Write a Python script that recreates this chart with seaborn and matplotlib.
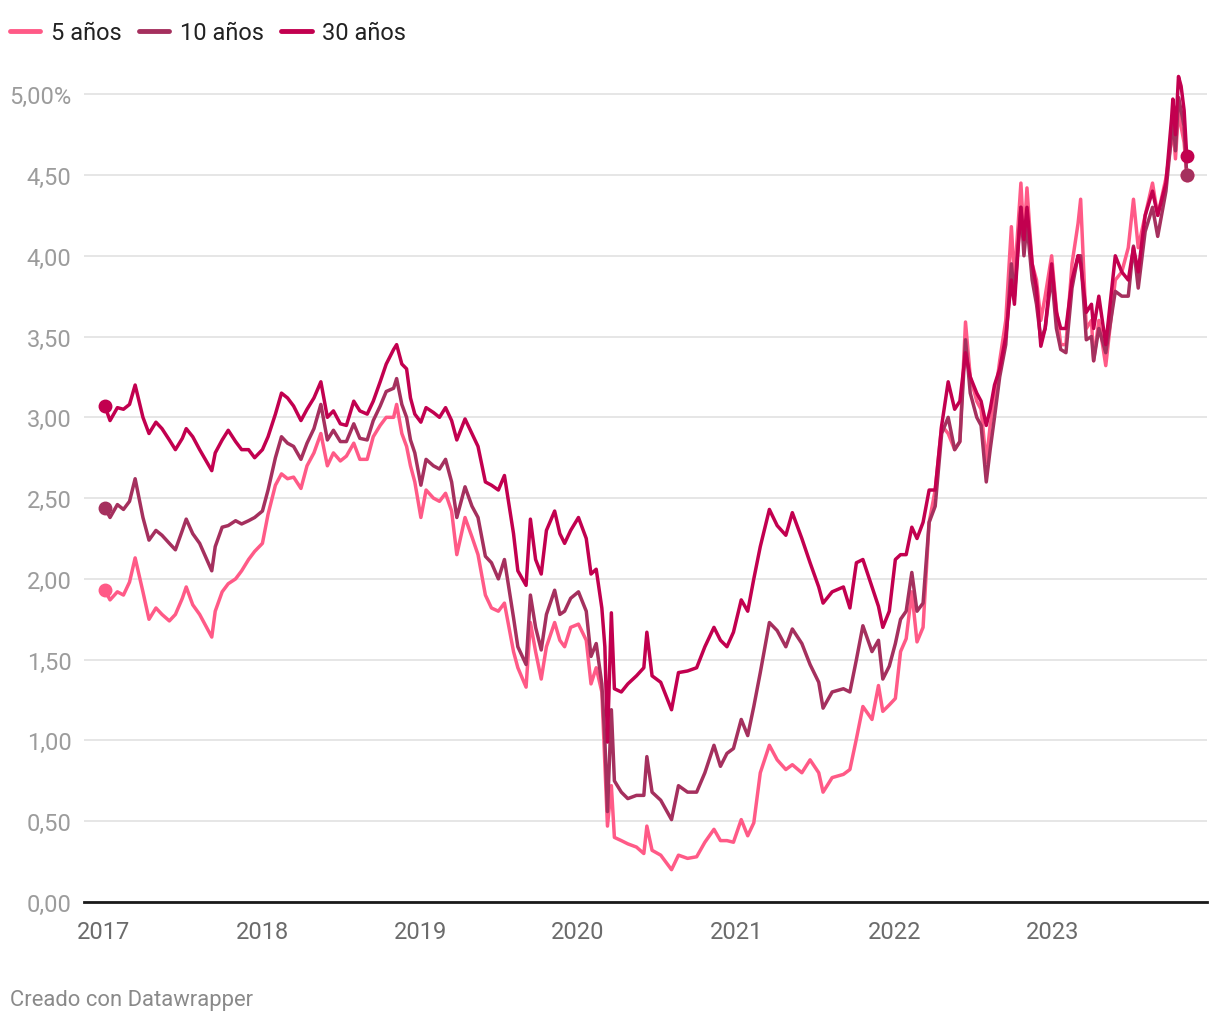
import pandas as pd
import numpy as np
import seaborn as sns
import matplotlib.pyplot as plt
import matplotlib.dates as mdates
from matplotlib.lines import Line2D
from matplotlib.ticker import FixedLocator, FuncFormatter

# fechas (aprox. quincenales, con picos y valles)
fechas = [
    # 2017
    "2017-01-03", "2017-01-15", "2017-02-01", "2017-02-15", "2017-03-01", "2017-03-14",
    "2017-04-01", "2017-04-15", "2017-05-01", "2017-05-15", "2017-06-01", "2017-06-15",
    "2017-07-01", "2017-07-10", "2017-07-25", "2017-08-10", "2017-09-07", "2017-09-15",
    "2017-10-01", "2017-10-15", "2017-11-01", "2017-11-15", "2017-12-01", "2017-12-15",
    # 2018
    "2018-01-02", "2018-01-15", "2018-02-01", "2018-02-15", "2018-03-01", "2018-03-15",
    "2018-04-01", "2018-04-15", "2018-05-01", "2018-05-17", "2018-06-01", "2018-06-15",
    "2018-07-01", "2018-07-15", "2018-08-01", "2018-08-15", "2018-09-01", "2018-09-15",
    "2018-10-01", "2018-10-15", "2018-11-01", "2018-11-08", "2018-11-20", "2018-12-01",
    "2018-12-10", "2018-12-20",
    # 2019
    "2019-01-03", "2019-01-15", "2019-02-01", "2019-02-15", "2019-03-01", "2019-03-15",
    "2019-03-27", "2019-04-15", "2019-05-01", "2019-05-15", "2019-06-01", "2019-06-15",
    "2019-07-01", "2019-07-15", "2019-08-05", "2019-08-15", "2019-09-03", "2019-09-13",
    "2019-09-25", "2019-10-08", "2019-10-20", "2019-11-08", "2019-11-20", "2019-12-01",
    "2019-12-15",
    # 2020
    "2020-01-02", "2020-01-20", "2020-01-31", "2020-02-12", "2020-02-25", "2020-03-03",
    "2020-03-09", "2020-03-18", "2020-03-25", "2020-04-10", "2020-04-25", "2020-05-15",
    "2020-06-01", "2020-06-08", "2020-06-20", "2020-07-10", "2020-08-04", "2020-08-20",
    "2020-09-10", "2020-10-01", "2020-10-20", "2020-11-10", "2020-11-25", "2020-12-10",
    "2020-12-25",
    # 2021
    "2021-01-12", "2021-01-27", "2021-02-10", "2021-02-25", "2021-03-18", "2021-04-05",
    "2021-04-25", "2021-05-10", "2021-06-01", "2021-06-20", "2021-07-10", "2021-07-20",
    "2021-08-10", "2021-09-05", "2021-09-20", "2021-10-05", "2021-10-20", "2021-11-10",
    "2021-11-25", "2021-12-05", "2021-12-20",
    # 2022
    "2022-01-03", "2022-01-15", "2022-01-28", "2022-02-10", "2022-02-22", "2022-03-08",
    "2022-03-22", "2022-04-05", "2022-04-20", "2022-05-05", "2022-05-20", "2022-06-01",
    "2022-06-14", "2022-06-25", "2022-07-10", "2022-07-20", "2022-08-01", "2022-08-10",
    "2022-08-20", "2022-09-01", "2022-09-15", "2022-09-28", "2022-10-05", "2022-10-20",
    "2022-10-27", "2022-11-03", "2022-11-15", "2022-11-25", "2022-12-05", "2022-12-15",
    "2022-12-30",
    # 2023
    "2023-01-10", "2023-01-20", "2023-02-01", "2023-02-15", "2023-03-01", "2023-03-07",
    "2023-03-20", "2023-04-01", "2023-04-06", "2023-04-18", "2023-05-04", "2023-05-26",
    "2023-06-10", "2023-06-25", "2023-07-07", "2023-07-18", "2023-08-03", "2023-08-20",
    "2023-09-01", "2023-09-20", "2023-10-03", "2023-10-06", "2023-10-12", "2023-10-19",
    "2023-10-25", "2023-11-01", "2023-11-07",
]

bono_5 = [
    # 2017
    1.93, 1.87, 1.92, 1.90, 1.98, 2.13, 1.92, 1.75, 1.82, 1.78, 1.74, 1.78,
    1.88, 1.95, 1.84, 1.78, 1.64, 1.80, 1.92, 1.97, 2.00, 2.05, 2.12, 2.17,
    # 2018
    2.22, 2.40, 2.58, 2.65, 2.62, 2.63, 2.56, 2.70, 2.78, 2.90, 2.70, 2.78,
    2.73, 2.76, 2.84, 2.74, 2.74, 2.88, 2.95, 3.00, 3.00, 3.08, 2.90, 2.82,
    2.70, 2.60,
    # 2019
    2.38, 2.55, 2.50, 2.48, 2.53, 2.42, 2.15, 2.38, 2.26, 2.15, 1.90, 1.82,
    1.80, 1.85, 1.55, 1.45, 1.33, 1.73, 1.55, 1.38, 1.58, 1.73, 1.62, 1.58,
    1.70,
    # 2020
    1.72, 1.62, 1.35, 1.45, 1.30, 0.85, 0.47, 0.72, 0.40, 0.38, 0.36, 0.34,
    0.30, 0.47, 0.32, 0.29, 0.20, 0.29, 0.27, 0.28, 0.37, 0.45, 0.38, 0.38,
    0.37,
    # 2021
    0.51, 0.41, 0.49, 0.80, 0.97, 0.88, 0.82, 0.85, 0.80, 0.88, 0.80, 0.68,
    0.77, 0.79, 0.82, 1.01, 1.21, 1.13, 1.34, 1.18, 1.22,
    # 2022
    1.26, 1.55, 1.63, 1.92, 1.61, 1.70, 2.35, 2.55, 2.95, 2.90, 2.80, 2.85,
    3.59, 3.25, 3.10, 3.05, 2.72, 2.95, 3.10, 3.35, 3.60, 4.18, 3.85, 4.45,
    4.10, 4.42, 3.95, 3.85, 3.60, 3.75, 4.00,
    # 2023
    3.67, 3.45, 3.45, 3.95, 4.20, 4.35, 3.55, 3.60, 3.35, 3.60, 3.32, 3.85,
    3.90, 4.05, 4.35, 4.05, 4.25, 4.45, 4.25, 4.48, 4.72, 4.82, 4.60, 4.90,
    4.80, 4.70, 4.50,
]

bono_10 = [
    # 2017
    2.44, 2.38, 2.46, 2.43, 2.48, 2.62, 2.38, 2.24, 2.30, 2.27, 2.22, 2.18,
    2.30, 2.37, 2.28, 2.22, 2.05, 2.20, 2.32, 2.33, 2.36, 2.34, 2.36, 2.38,
    # 2018
    2.42, 2.55, 2.75, 2.88, 2.84, 2.82, 2.74, 2.84, 2.93, 3.08, 2.86, 2.92,
    2.85, 2.85, 2.96, 2.87, 2.86, 2.98, 3.07, 3.16, 3.18, 3.24, 3.08, 3.00,
    2.86, 2.78,
    # 2019
    2.58, 2.74, 2.70, 2.68, 2.74, 2.60, 2.38, 2.57, 2.45, 2.38, 2.14, 2.10,
    2.00, 2.12, 1.76, 1.58, 1.47, 1.90, 1.70, 1.56, 1.78, 1.93, 1.78, 1.80,
    1.88,
    # 2020
    1.92, 1.80, 1.52, 1.60, 1.35, 1.00, 0.56, 1.19, 0.75, 0.68, 0.64, 0.66,
    0.66, 0.90, 0.68, 0.63, 0.51, 0.72, 0.68, 0.68, 0.80, 0.97, 0.84, 0.92,
    0.95,
    # 2021
    1.13, 1.03, 1.21, 1.42, 1.73, 1.68, 1.58, 1.69, 1.60, 1.47, 1.36, 1.20,
    1.30, 1.32, 1.30, 1.50, 1.71, 1.55, 1.62, 1.38, 1.46,
    # 2022
    1.60, 1.75, 1.80, 2.04, 1.80, 1.85, 2.35, 2.45, 2.90, 3.00, 2.80, 2.85,
    3.48, 3.15, 3.00, 2.95, 2.60, 2.80, 3.00, 3.25, 3.45, 3.95, 3.75, 4.30,
    4.00, 4.20, 3.85, 3.70, 3.48, 3.55, 3.88,
    # 2023
    3.55, 3.42, 3.40, 3.80, 4.00, 4.00, 3.48, 3.50, 3.35, 3.55, 3.40, 3.78,
    3.75, 3.75, 4.06, 3.80, 4.15, 4.30, 4.12, 4.40, 4.75, 4.88, 4.65, 4.98,
    4.90, 4.80, 4.50,
]

bono_30 = [
    # 2017
    3.07, 2.98, 3.06, 3.05, 3.08, 3.20, 3.00, 2.90, 2.97, 2.93, 2.86, 2.80,
    2.87, 2.93, 2.88, 2.80, 2.67, 2.78, 2.86, 2.92, 2.85, 2.80, 2.80, 2.75,
    # 2018
    2.80, 2.88, 3.02, 3.15, 3.12, 3.07, 2.98, 3.05, 3.12, 3.22, 3.00, 3.04,
    2.96, 2.95, 3.10, 3.04, 3.02, 3.10, 3.22, 3.33, 3.42, 3.45, 3.33, 3.30,
    3.12, 3.02,
    # 2019
    2.97, 3.06, 3.03, 3.00, 3.06, 2.98, 2.86, 2.99, 2.90, 2.82, 2.60, 2.58,
    2.55, 2.64, 2.28, 2.05, 1.96, 2.37, 2.12, 2.03, 2.30, 2.42, 2.28, 2.22,
    2.30,
    # 2020
    2.38, 2.25, 2.03, 2.06, 1.82, 1.58, 0.99, 1.79, 1.32, 1.30, 1.35, 1.40,
    1.45, 1.67, 1.40, 1.36, 1.19, 1.42, 1.43, 1.45, 1.58, 1.70, 1.62, 1.58,
    1.67,
    # 2021
    1.87, 1.80, 2.00, 2.20, 2.43, 2.33, 2.27, 2.41, 2.25, 2.10, 1.95, 1.85,
    1.92, 1.95, 1.82, 2.10, 2.12, 1.95, 1.83, 1.70, 1.80,
    # 2022
    2.12, 2.15, 2.15, 2.32, 2.25, 2.35, 2.55, 2.55, 2.95, 3.22, 3.05, 3.10,
    3.40, 3.25, 3.15, 3.10, 2.95, 3.05, 3.20, 3.30, 3.50, 3.85, 3.70, 4.30,
    4.10, 4.30, 3.95, 3.80, 3.44, 3.55, 3.95,
    # 2023
    3.65, 3.55, 3.55, 3.85, 4.00, 3.95, 3.65, 3.70, 3.55, 3.75, 3.45, 4.00,
    3.90, 3.85, 4.05, 3.90, 4.25, 4.40, 4.25, 4.45, 4.85, 4.97, 4.75, 5.11,
    5.05, 4.90, 4.62,
]

series = ["5 años", "10 años", "30 años"]
colores = ["#ff5a87", "#a5305e", "#c2004f"]
y_ticks = [0, 0.5, 1, 1.5, 2, 2.5, 3, 3.5, 4, 4.5, 5]

assert len(fechas) == len(bono_5) == len(bono_10) == len(bono_30)

df = pd.DataFrame({"fecha": pd.to_datetime(fechas),
                   "5 años": bono_5, "10 años": bono_10, "30 años": bono_30})
df_long = df.melt(id_vars="fecha", var_name="serie", value_name="valor")

sns.set_theme(style="white")
plt.rcParams["font.family"] = ["Roboto", "DejaVu Sans"]

fig = plt.figure(figsize=(12.2, 10.2), dpi=100)
ax = fig.add_axes([0.0689, 0.1147, 0.9205, 0.8157])

sns.lineplot(data=df_long, x="fecha", y="valor", hue="serie", hue_order=series,
             palette=colores, linewidth=2.5, legend=False, ax=ax)

# puntos al inicio y al final
for s, c in zip(series, colores):
    ax.plot(df["fecha"].iloc[[0, -1]], df[s].iloc[[0, -1]], "o", color=c,
            markersize=9, zorder=5)

ax.set_xlim(pd.Timestamp("2016-11-16"), pd.Timestamp("2023-12-24"))
ax.set_ylim(0, 5.15)

ax.yaxis.set_major_locator(FixedLocator(y_ticks))
ax.yaxis.set_major_formatter(FuncFormatter(
    lambda v, p: f"{v:.2f}".replace(".", ",") + ("%" if v == 5 else "")))
ax.xaxis.set_major_locator(mdates.YearLocator())
ax.xaxis.set_major_formatter(mdates.DateFormatter("%Y"))

ax.grid(axis="y", color="#e2e2e2", linewidth=1.2)
ax.grid(axis="x", visible=False)
for side in ["top", "right", "left"]:
    ax.spines[side].set_visible(False)
ax.spines["bottom"].set_color("#1a1a1a")
ax.spines["bottom"].set_linewidth(2)

ax.tick_params(axis="y", length=0, pad=9, labelsize=17, labelcolor="#9c9c9c")
ax.tick_params(axis="x", length=0, pad=13, labelsize=17, labelcolor="#6b6b6b")
ax.set_xlabel("")
ax.set_ylabel("")

handles = [Line2D([0], [0], color=c, linewidth=3.5) for c in colores]
fig.legend(handles, series, loc="upper left", bbox_to_anchor=(0.008, 0.978), ncol=3,
           frameon=False, fontsize=17, handlelength=1.28, handletextpad=0.45,
           columnspacing=0.75, borderpad=0, borderaxespad=0, labelcolor="#222222")

fig.text(0.008, 0.014, "Creado con Datawrapper", fontsize=15.8, color="#8a8a8a")

fig.savefig("out.png", dpi=100)
